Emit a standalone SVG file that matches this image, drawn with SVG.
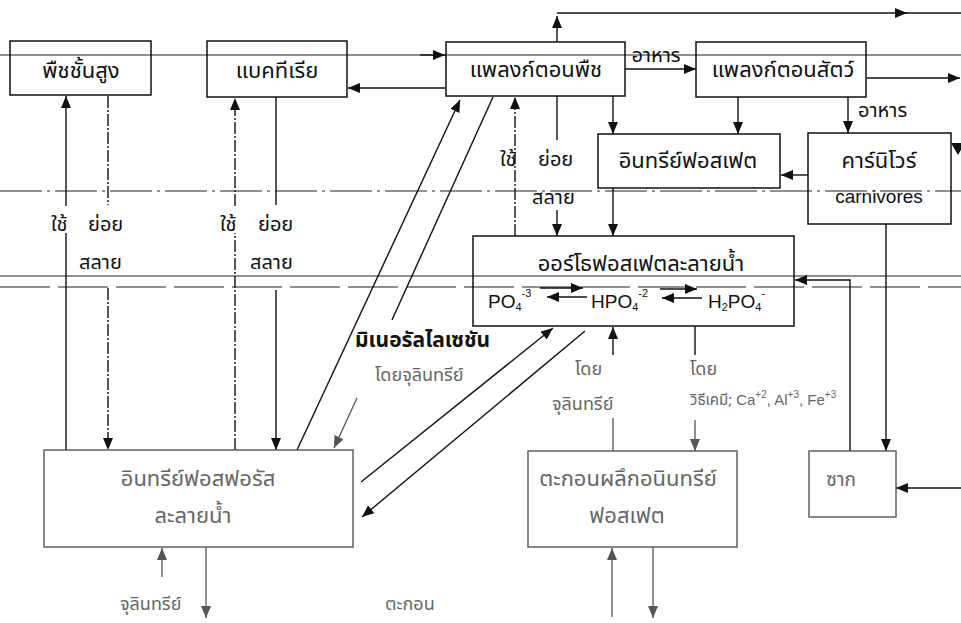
<svg xmlns="http://www.w3.org/2000/svg" width="961" height="623" viewBox="0 0 961 623">
<defs>
<marker id="ah" viewBox="0 0 12 10" refX="12" refY="5" markerWidth="12" markerHeight="10" markerUnits="userSpaceOnUse" orient="auto"><path d="M0,0 L12,5 L0,10 z" fill="#111"/></marker>
<marker id="ahg" viewBox="0 0 12 10" refX="12" refY="5" markerWidth="12" markerHeight="10" markerUnits="userSpaceOnUse" orient="auto"><path d="M0,0 L12,5 L0,10 z" fill="#555"/></marker>
</defs>
<style>
.box{fill:none;stroke:#111;stroke-width:1.5}
.boxg{fill:none;stroke:#555;stroke-width:1.4}
.t{font-family:"Noto Sans Thai","Noto Serif Thai","Loma","Garuda","Tlwg Typo","DejaVu Sans","Noto Sans",sans-serif;font-size:22px;fill:#111;text-anchor:middle}
.s{font-size:20px}
.m{font-size:18px}
.g{fill:#666}
.st{text-anchor:start}
.c{font-family:"Liberation Sans",Arial,sans-serif;fill:#111}
.l{fill:none;stroke:#111;stroke-width:1.4}
.lg{fill:none;stroke:#555;stroke-width:1.3}
.d{stroke-dasharray:12 2 2 2}
.a{marker-end:url(#ah)}
.ag{marker-end:url(#ahg)}
.gl{fill:none;stroke:#222;stroke-width:1.2}
</style>
<rect width="961" height="623" fill="#fff"/>

<g id="guides">
<line class="gl" x1="0" y1="55" x2="961" y2="55"/>
<line class="gl" x1="0" y1="191" x2="961" y2="191" style="stroke-dasharray:42 5 3 5"/>
<line class="gl" x1="0" y1="276" x2="961" y2="276"/>
<line class="gl" x1="0" y1="287" x2="961" y2="287" style="stroke-dasharray:50 8"/>
</g>

<g id="connectors">
<path class="l a" d="M557,42 V16"/>
<path class="l a" d="M557,13 H907"/>
<path class="l" d="M905,13 H961"/>
<path class="l a" d="M420,55 H445"/>
<path class="l a" d="M625,69 H696"/>
<path class="l a" d="M867,78 H960"/>
<path class="l a" d="M445,88 H348"/>
<path class="l a" d="M613,96 V134"/>
<path class="l a" d="M738,97 V134"/>
<path class="l a" d="M848,97 V133"/>
<path class="l a" d="M808,175 H781"/>
<path class="l a" d="M613,188 V236"/>
<path class="l" d="M557,96 V140"/>
<path class="l a" d="M557,210 V236"/>
<path class="l d a" d="M515,236 V97"/>
<path class="l" d="M66,450 V233"/>
<path class="l a" d="M66,206 V96"/>
<path class="l d" d="M108,96 V205"/>
<path class="l d a" d="M108,288 V450"/>
<path class="l d" d="M235,450 V233"/>
<path class="l d a" d="M235,206 V98"/>
<path class="l" d="M276,97 V205"/>
<path class="l a" d="M276,290 V450"/>
<path class="l a" d="M297,450 L460,100"/>
<path class="l" d="M493,97 L392,320"/>
<path class="lg ag" d="M357,398 L334,448"/>
<path class="l a" d="M361,482 L553,328"/>
<path class="l a" d="M585,331 L362,517"/>
<path class="lg" d="M613,451 V418"/>
<path class="l a" d="M613,355 V327"/>
<path class="l" d="M695,326 V355"/>
<path class="lg ag" d="M695,420 V451"/>
<path class="lg ag" d="M162,577 V548"/>
<path class="lg ag" d="M206,547 V618"/>
<path class="lg ag" d="M612,617 V548"/>
<path class="lg ag" d="M653,547 V618"/>
<path class="l a" d="M886,224 V451"/>
<path class="l a" d="M850,451 V280 H795"/>
<path class="l a" d="M961,488 H896"/>
<path d="M951,143 L965,143 L958,155 z" fill="#111"/>
<path class="l a" d="M540,288 H583"/>
<path class="l a" d="M587,297 H547"/>
<path class="l a" d="M660,289 H697"/>
<path class="l a" d="M702,298 H662"/>
</g>

<g id="n1"><rect class="box" x="10" y="41" width="141" height="54"/><text class="t" x="81" y="78">พืชชั้นสูง</text></g>
<g id="n2"><rect class="box" x="207" y="41" width="140" height="56"/><text class="t" x="277" y="78">แบคทีเรีย</text></g>
<g id="n3"><rect class="box" x="446" y="42" width="179" height="54"/><text class="t" x="536" y="77">แพลงก์ตอนพืช</text></g>
<g id="n4"><rect class="box" x="696" y="42" width="170" height="55"/><text class="t" x="783" y="77">แพลงก์ตอนสัตว์</text></g>
<g id="n5"><rect class="box" x="598" y="134" width="182" height="54"/><text class="t" x="688" y="168">อินทรีย์ฟอสเฟต</text></g>
<g id="n6"><rect class="box" x="808" y="133" width="143" height="91"/><text class="t" x="879" y="168">คาร์นิโวร์</text><text class="c" x="879" y="203" font-size="19" text-anchor="middle">carnivores</text></g>
<g id="n7"><rect class="box" x="473" y="236" width="321" height="90"/><text class="t" x="641" y="271">ออร์โธฟอสเฟตละลายน้ำ</text>
<text class="c" x="488" y="308" font-size="19">PO<tspan font-size="11" dy="3">4</tspan><tspan font-size="11" dy="-14">-3</tspan></text>
<text class="c" x="591" y="308" font-size="19">HPO<tspan font-size="11" dy="3">4</tspan><tspan font-size="11" dy="-14">-2</tspan></text>
<text class="c" x="708" y="308" font-size="19">H<tspan font-size="11" dy="3">2</tspan><tspan dy="-3">PO</tspan><tspan font-size="11" dy="3">4</tspan><tspan font-size="11" dy="-14">-</tspan></text>
</g>
<g id="n8"><rect class="boxg" x="44" y="450" width="309" height="97"/><text class="t g" x="198" y="486">อินทรีย์ฟอสฟอรัส</text><text class="t g" x="193" y="523">ละลายน้ำ</text></g>
<g id="n9"><rect class="boxg" x="528" y="451" width="209" height="96"/><text class="t g" x="628" y="486">ตะกอนผลึกอนินทรีย์</text><text class="t g" x="627" y="523">ฟอสเฟต</text></g>
<g id="n10"><rect class="boxg" x="809" y="451" width="87" height="66"/><text class="t g" x="841" y="486" style="font-size:19px">ซาก</text></g>

<g id="labels">
<text class="t s" x="656" y="62">อาหาร</text>
<text class="t s st" x="858" y="117">อาหาร</text>
<text class="t s st" x="51" y="231">ใช้</text>
<text class="t s st" x="88" y="231">ย่อย</text>
<text class="t s st" x="79" y="269">สลาย</text>
<text class="t s st" x="220" y="231">ใช้</text>
<text class="t s st" x="258" y="231">ย่อย</text>
<text class="t s st" x="250" y="269">สลาย</text>
<text class="t s st" x="500" y="166">ใช้</text>
<text class="t s st" x="538" y="166">ย่อย</text>
<text class="t s st" x="532" y="204">สลาย</text>
<text class="t st" x="355" y="347" style="font-size:21px;font-weight:bold">มิเนอรัลไลเซชัน</text>
<text class="t m g st" x="375" y="381">โดยจุลินทรีย์</text>
<text class="t m g st" x="575" y="375">โดย</text>
<text class="t m g st" x="552" y="410">จุลินทรีย์</text>
<text class="t m g st" x="690" y="375">โดย</text>
<text class="t g st" x="690" y="405" style="font-size:15px">วิธีเคมี; <tspan class="c" style="fill:#666">Ca<tspan font-size="10" dy="-7">+2</tspan><tspan dy="7">, Al</tspan><tspan font-size="10" dy="-7">+3</tspan><tspan dy="7">, Fe</tspan><tspan font-size="10" dy="-7">+3</tspan></tspan></text>
<text class="t m g st" x="120" y="610">จุลินทรีย์</text>
<text class="t m g st" x="385" y="610">ตะกอน</text>
</g>
</svg>
